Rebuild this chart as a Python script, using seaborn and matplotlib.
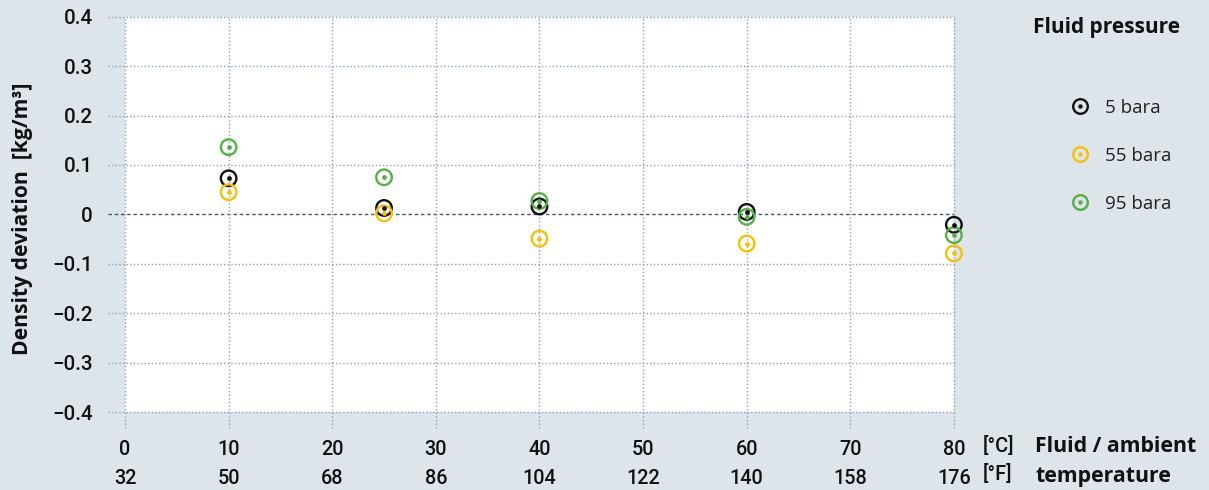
import matplotlib
matplotlib.use("Agg")
import matplotlib.pyplot as plt
import seaborn as sns
import pandas as pd
from matplotlib.lines import Line2D
from matplotlib.legend_handler import HandlerTuple

# ---- data ----
temps_c = [10, 25, 40, 60, 80]
dev_5 = [0.073, 0.013, 0.016, 0.005, -0.021]
dev_55 = [0.045, 0.002, -0.049, -0.059, -0.079]
dev_95 = [0.136, 0.075, 0.027, -0.005, -0.042]
series_names = ["5 bara", "55 bara", "95 bara"]
tick_c = [0, 10, 20, 30, 40, 50, 60, 70, 80]
tick_f = [32, 50, 68, 86, 104, 122, 140, 158, 176]
ytick_vals = [-0.4, -0.3, -0.2, -0.1, 0, 0.1, 0.2, 0.3, 0.4]
ytick_labels = ["\u22120.4", "\u22120.3", "\u22120.2", "\u22120.1", "0", "0.1", "0.2", "0.3", "0.4"]

colors = {"5 bara": "#111111", "55 bara": "#f7c000", "95 bara": "#55b046"}
BG = "#dde4ea"
GRID = "#8da3b3"
TXT = "#111111"
TICKFONT = ["Roboto", "DejaVu Sans"]

df = pd.DataFrame({
    "temp": temps_c * 3,
    "dev": dev_5 + dev_55 + dev_95,
    "series": [s for s in series_names for _ in temps_c],
})

sns.set_theme(style="white")
plt.rcParams["font.family"] = ["Open Sans", "DejaVu Sans"]

fig = plt.figure(figsize=(12.09, 4.90), dpi=100, facecolor=BG)
ax = fig.add_axes([0.1034, 0.159, 0.6856, 0.807])
ax.set_facecolor("white")

ax.set_xlim(0, 80)
ax.set_ylim(-0.4, 0.4)
for s in ax.spines.values():
    s.set_visible(False)

# grid lines (extended beyond axes as dotted ticks)
for yv in ytick_vals:
    if yv == 0:
        ax.axhline(yv, xmin=-0.021, xmax=1, color="#3d5868", lw=1.0,
                   ls=(0, (2.5, 2)), clip_on=False, zorder=1)
    else:
        ax.axhline(yv, xmin=-0.021, xmax=1, color=GRID, lw=1.0,
                   ls=(0, (1, 1.6)), clip_on=False, zorder=1)
for xv in tick_c:
    ax.axvline(xv, ymin=-0.04, ymax=1, color=GRID, lw=1.0,
               ls=(0, (1, 1.6)), clip_on=False, zorder=1)

# markers: open circles with a center dot
for name in series_names:
    sub = df[df["series"] == name]
    sns.scatterplot(data=sub, x="temp", y="dev", ax=ax, marker="o", s=125,
                    facecolor="none", edgecolor=colors[name], linewidth=1.7,
                    legend=False, zorder=3, clip_on=False)
    sns.scatterplot(data=sub, x="temp", y="dev", ax=ax, marker="o", s=12,
                    color=colors[name], linewidth=0, legend=False, zorder=4,
                    clip_on=False)

ax.set_xlabel("")
ax.set_ylabel("Density deviation  [kg/m\u00b3]", fontsize=15.2, fontweight="bold",
              color=TXT)
ax.yaxis.set_label_coords((33 - 125) / 829, (412 - 219) / 395.5)

ax.set_yticks(ytick_vals)
ax.set_yticklabels(ytick_labels)
ax.set_xticks(tick_c)
ax.set_xticklabels([f"{c}\n{f}" for c, f in zip(tick_c, tick_f)], linespacing=1.7)
ax.tick_params(axis="y", length=0, pad=23, labelsize=14.8, labelcolor=TXT)
ax.tick_params(axis="x", length=0, pad=20, labelsize=14.3, labelcolor=TXT)
for lab in ax.get_xticklabels() + ax.get_yticklabels():
    lab.set_fontweight("medium")
    lab.set_family(TICKFONT)

# unit labels and axis title on right
fig.text(983 / 1209, 1 - 446 / 490, "[\u00b0C]", fontsize=14.3, fontweight="medium",
         family=TICKFONT, va="center", ha="left", color=TXT)
fig.text(983 / 1209, 1 - 474 / 490, "[\u00b0F]", fontsize=14.3, fontweight="medium",
         family=TICKFONT, va="center", ha="left", color=TXT)
fig.text(1035 / 1209, 1 - 447 / 490, "Fluid / ambient", fontsize=15.3, fontweight="bold",
         va="center", ha="left", color=TXT)
fig.text(1035 / 1209, 1 - 476 / 490, "temperature", fontsize=15.3, fontweight="bold",
         va="center", ha="left", color=TXT)

# legend
fig.text(1033 / 1209, 1 - 27 / 490, "Fluid pressure", fontsize=15, fontweight="bold",
         va="center", ha="left", color=TXT)
handles = []
for name in series_names:
    ring = Line2D([], [], ls="none", marker="o", markersize=10.5, markerfacecolor="none",
                  markeredgecolor=colors[name], markeredgewidth=1.7)
    dot = Line2D([], [], ls="none", marker="o", markersize=3.2, markerfacecolor=colors[name],
                 markeredgewidth=0)
    handles.append((ring, dot))
leg = fig.legend(handles, series_names, handler_map={tuple: HandlerTuple(ndivide=1, pad=0)},
                 loc="upper left", bbox_to_anchor=(1071 / 1209, 1 - 99 / 490),
                 frameon=False, fontsize=13.5, labelspacing=1.6, handlelength=1.0,
                 handletextpad=0.8, borderaxespad=0, borderpad=0)
for t in leg.get_texts():
    t.set_color("#222222")

fig.savefig("out.png", dpi=100, facecolor=BG)
